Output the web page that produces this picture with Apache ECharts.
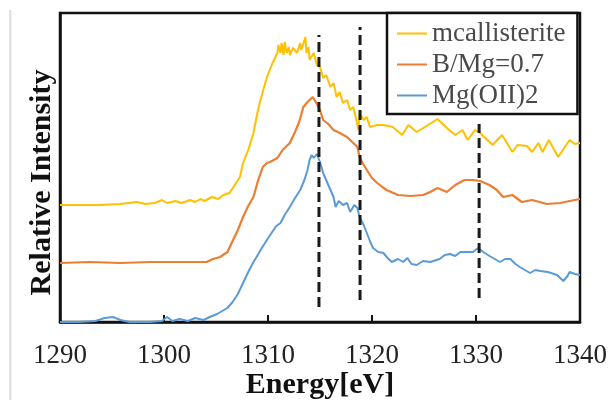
<!DOCTYPE html>
<html>
<head>
<meta charset="utf-8">
<script src="https://cdn.jsdelivr.net/npm/echarts@6/dist/echarts.min.js"></script>
<style>
  html, body { margin: 0; padding: 0; background: #fff; }
  #chart { width: 613px; height: 400px; }
</style>
</head>
<body>
<div id="chart"></div>
<script>
// energies [eV] and relative intensity (arbitrary units, offset stacked as in the figure)
var mcallE = [1290.0, 1291.9, 1293.8, 1295.8, 1297.4, 1298.2, 1299.1, 1299.8, 1300.3, 1301.1, 1301.7, 1302.5, 1303.0, 1303.5, 1303.9, 1304.6, 1305.2, 1305.7,
    1306.3, 1306.8, 1307.3, 1307.6, 1308.1, 1308.6, 1308.9, 1309.2, 1309.6, 1309.9, 1310.4, 1310.9, 1311.0, 1311.2, 1311.3, 1311.5, 1311.6, 1311.8,
    1312.0, 1312.1, 1312.4, 1312.8, 1313.1, 1313.2, 1313.6, 1313.7, 1313.9, 1314.0, 1314.4, 1314.7, 1315.0, 1315.3, 1315.6, 1316.0, 1316.3, 1316.6,
    1316.9, 1317.2, 1317.6, 1317.9, 1318.2, 1318.5, 1318.7, 1318.8, 1319.2, 1319.5, 1319.8, 1320.5, 1321.1, 1322.0, 1322.9, 1323.5, 1324.3, 1325.4,
    1326.3, 1327.2, 1328.0, 1328.7, 1329.2, 1329.9, 1330.4, 1331.6, 1332.5, 1333.5, 1334.0, 1334.9, 1335.4, 1336.0, 1336.4, 1337.0, 1337.9, 1339.0,
    1339.5, 1340.0];
var mcallI = [117, 117, 117, 118, 120, 118, 119, 122, 119, 121, 119, 122, 120, 123, 121, 125, 123, 127,
    129, 137, 145, 159, 172, 189, 205, 219, 234, 245, 258, 269, 277, 269, 279, 267, 280, 269,
    275, 267, 274, 269, 279, 272, 285, 269, 275, 262, 269, 257, 255, 244, 247, 235, 239, 225,
    230, 219, 222, 212, 215, 202, 192, 209, 202, 205, 195, 197, 197, 195, 187, 197, 190, 197,
    203, 194, 187, 192, 182, 192, 189, 177, 187, 170, 177, 176, 170, 179, 170, 182, 165, 182,
    178, 179];

var bmgE = [1290.0, 1292.9, 1295.8, 1298.7, 1301.5, 1304.1, 1304.7, 1305.4, 1306.1, 1306.6, 1307.1, 1307.6, 1308.1, 1308.6, 1309.0, 1309.5, 1309.9,
    1310.2, 1310.9, 1311.4, 1312.1, 1312.6, 1313.0, 1313.4, 1313.8, 1314.3, 1314.6, 1315.0, 1315.3, 1315.8, 1316.3, 1316.9, 1317.6, 1318.2, 1318.6,
    1318.8, 1319.1, 1319.5, 1320.0, 1320.5, 1321.0, 1321.4, 1322.5, 1323.7, 1324.9, 1325.6, 1326.3, 1327.2, 1328.0, 1328.9, 1329.7, 1330.4, 1331.3,
    1332.0, 1332.6, 1333.5, 1334.4, 1335.4, 1336.8, 1338.1, 1339.0, 1340.0];
var bmgI = [59, 60, 59, 60, 60, 60, 63, 65, 70, 81, 92, 105, 116, 125, 140, 155, 159,
    160, 164, 172, 179, 190, 200, 215, 220, 225, 220, 212, 202, 198, 192, 189, 185, 179, 175,
    165, 159, 152, 144, 139, 135, 132, 127, 126, 127, 130, 134, 130, 137, 142, 142, 141, 137,
    132, 125, 127, 120, 122, 118, 119, 121, 123];

var mgohE = [1290.0, 1291.9, 1293.4, 1294.3, 1295.1, 1295.8, 1296.7, 1298.7, 1299.8, 1300.3, 1300.8, 1301.5, 1302.3, 1303.0, 1303.8, 1304.4, 1305.1,
    1305.6, 1306.1, 1306.6, 1307.1, 1307.6, 1308.1, 1308.6, 1308.9, 1309.4, 1309.9, 1310.4, 1310.8, 1311.2, 1311.6, 1312.1, 1312.6, 1313.1, 1313.5,
    1313.8, 1314.0, 1314.2, 1314.4, 1314.7, 1315.0, 1315.3, 1315.8, 1316.3, 1316.5, 1316.8, 1317.2, 1317.6, 1317.9, 1318.3, 1318.6, 1318.8, 1319.2,
    1319.5, 1319.8, 1320.1, 1320.6, 1321.1, 1321.5, 1321.9, 1322.5, 1323.0, 1323.4, 1323.8, 1324.3, 1324.9, 1325.6, 1326.5, 1327.0, 1327.5, 1328.0,
    1328.5, 1329.0, 1329.7, 1330.2, 1330.7, 1331.3, 1332.3, 1332.8, 1333.3, 1333.8, 1334.2, 1334.7, 1335.2, 1335.7, 1336.2, 1336.9, 1337.8, 1338.4,
    1338.8, 1339.0, 1339.5, 1340.0];
var mgohI = [0, 0, 1, 4, 5, 2, 0, 0, 1, 5, 1, 3, 1, 4, 2, 5, 8,
    11, 14, 20, 28, 39, 50, 60, 65, 74, 82, 90, 96, 99, 107, 115, 124, 132, 142,
    152, 162, 167, 164, 168, 160, 149, 137, 125, 115, 121, 117, 119, 110, 117, 114, 105, 97,
    89, 81, 74, 70, 69, 64, 60, 63, 60, 64, 58, 57, 61, 60, 63, 67, 68, 66,
    70, 70, 70, 74, 70, 66, 60, 63, 63, 58, 55, 52, 49, 52, 51, 50, 47, 41,
    46, 50, 48, 47];

// vertical dashed guide lines: energy, bottom, top
var guideE = [1314.9, 1318.85, 1330.3];
var guideLow = [15, 22, 24];
var guideHigh = [287, 295, 198];

var legendNames = ['mcallisterite', 'B/Mg=0.7', 'Mg(OII)2'];
var xTicks = { min: 1290, max: 1340, step: 10 };

function pairs(xs, ys) {
    var out = [];
    for (var i = 0; i < xs.length; i++) {
        out.push([xs[i], ys[i]]);
    }
    return out;
}

var serif = '"Liberation Serif", serif';

var series = [
    { name: legendNames[0], type: 'line', data: pairs(mcallE, mcallI), showSymbol: false, color: '#FFC000', lineStyle: { width: 2 } },
    { name: legendNames[1], type: 'line', data: pairs(bmgE, bmgI), showSymbol: false, color: '#ED7D31', lineStyle: { width: 2.2 } },
    { name: legendNames[2], type: 'line', data: pairs(mgohE, mgohI), showSymbol: false, color: '#5B9BD5', lineStyle: { width: 2 } }
];
for (var g = 0; g < guideE.length; g++) {
    series.push({
        type: 'line',
        data: [[guideE[g], guideLow[g]], [guideE[g], guideHigh[g]]],
        showSymbol: false,
        silent: true,
        z: 3,
        lineStyle: { color: '#1a1a1a', width: 3, type: [10, 5] }
    });
}

var myChart = echarts.init(document.getElementById('chart'));
myChart.setOption({
    animation: false,
    backgroundColor: '#fff',
    grid: {
        left: 60, right: 33, top: 13, bottom: 78,
        containLabel: false, outerBoundsMode: 'none',
        show: true, borderColor: '#111', borderWidth: 2.5
    },
    graphic: [
        { type: 'rect', shape: { x: 9, y: 10, width: 2.5, height: 390 }, style: { fill: '#e2e2e2' }, silent: true }
    ],
    legend: {
        data: legendNames,
        orient: 'vertical',
        left: 387,
        top: 13,
        padding: [7, 12, 5, 10],
        itemGap: 4,
        itemWidth: 30,
        itemHeight: 2,
        icon: 'rect',
        borderColor: '#111',
        borderWidth: 2.5,
        backgroundColor: '#fff',
        textStyle: { fontFamily: serif, fontSize: 27, color: '#4a4a4a' }
    },
    xAxis: {
        type: 'value',
        min: xTicks.min,
        max: xTicks.max,
        interval: xTicks.step,
        name: 'Energy[eV]',
        nameLocation: 'middle',
        nameGap: 48,
        nameMoveOverlap: false,
        nameTextStyle: { fontFamily: serif, fontSize: 30, fontWeight: 'bold', color: '#111' },
        axisLine: { lineStyle: { color: '#111', width: 2.5 } },
        axisTick: { inside: true, length: 7, lineStyle: { color: '#111', width: 2 } },
        axisLabel: {
            fontFamily: serif, fontSize: 27, color: '#222', margin: 20,
            formatter: function (v) { return String(v); }
        },
        splitLine: { show: false }
    },
    yAxis: {
        type: 'value',
        min: 0,
        max: 309,
        name: 'Relative Intensity',
        nameLocation: 'middle',
        nameGap: 3,
        nameMoveOverlap: false,
        nameTextStyle: { fontFamily: serif, fontSize: 30, fontWeight: 'bold', color: '#111', padding: [0, 30, 0, 0] },
        axisLine: { show: true, lineStyle: { color: '#111', width: 2.5 } },
        axisTick: { show: false },
        axisLabel: { show: false },
        splitLine: { show: false }
    },
    series: series
});
</script>
</body>
</html>
